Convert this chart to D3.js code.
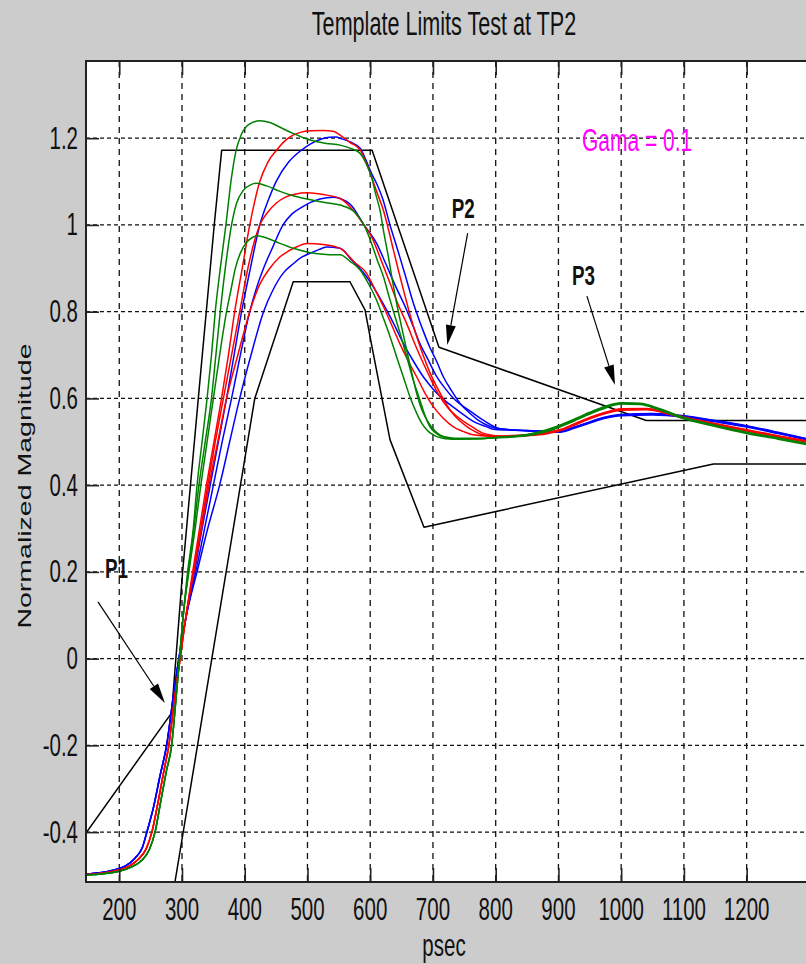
<!DOCTYPE html>
<html>
<head>
<meta charset="utf-8">
<script src="https://cdn.jsdelivr.net/npm/d3@7"></script>
<style>
  html, body { margin: 0; padding: 0; background: #cccccc; }
  svg { display: block; }
</style>
</head>
<body>
<div id="chart"></div>
<script>
// ---- data ----
var xTicks = [200, 300, 400, 500, 600, 700, 800, 900, 1000, 1100, 1200];
var yTicks = [-0.4, -0.2, 0, 0.2, 0.4, 0.6, 0.8, 1, 1.2];

var upperTemplate = [[147,-0.402],[283.5,-0.125],[301,0.2],[326,0.6],[351.4,1.0],[363.2,1.172],
  [603,1.172],[709.6,0.718],[1040,0.549],[1300,0.549]];
var lowerTemplate = [[288.8,-0.515],[416,0.6],[477.3,0.869],[567.7,0.869],[591.7,0.804],[600,0.74],
  [631.5,0.505],[685.7,0.303],[1147,0.449],[1300,0.449]];

// shared start of each colour family (the curves overlap there)
var greenStart = [[147,-0.499],[200,-0.49],[220,-0.48],[236,-0.465],[248,-0.44],[257,-0.4],[266,-0.33],[275,-0.26],[283.5,-0.2],[290,-0.1],[296,0.0],[302,0.1]];
var redStart = [[147,-0.498],[195,-0.489],[215,-0.479],[230,-0.463],[243,-0.438],[252,-0.4],[262,-0.33],[271,-0.26],[279,-0.2],[287.5,-0.1],[297,0.0],[306.5,0.1]];
var blueStart = [[147,-0.497],[190,-0.488],[210,-0.478],[225,-0.46],[237,-0.435],[244,-0.4],[255,-0.34],[265,-0.27],[275.5,-0.2],[285,-0.1],[295,0.0],[307,0.1]];

var green1 = greenStart.concat([
  [309,0.2],[318,0.3],[324,0.4],[332,0.5],[340,0.6],[347,0.7],[353,0.8],[361,0.9],[370,1.0],[378,1.1],[386,1.17],[395,1.21],[408,1.233],[424,1.24],[440,1.236],[458,1.224],[477,1.211],[504,1.196],[530,1.188],[552,1.184],[570,1.176],[584,1.165],[594,1.14],[602,1.111],[609,1.07],[615.6,1.034],[622,0.98],[628.9,0.927],[635,0.875],[642,0.82],[650,0.765],[658,0.712],[666,0.66],[674,0.612],[682,0.575],[690,0.551],[700,0.53],[711,0.516],[725,0.51],[743,0.508],[775,0.508],
  [800,0.51],[850,0.516],[880,0.525],[900,0.535],[925,0.55],[950,0.566],[975,0.58],[1000,0.589],[1030,0.588],[1060,0.576],[1100,0.555],[1150,0.537],[1200,0.521],[1250,0.508],[1300,0.494]]);
var green2 = greenStart.concat([
  [310,0.2],[319,0.3],[327,0.4],[337,0.5],[347,0.6],[354,0.7],[361,0.8],[369,0.9],[379,1.0],[387,1.05],[398,1.08],[410,1.093],[419,1.096],[435,1.09],[455,1.078],[480,1.066],[505,1.058],[530,1.051],[552,1.046],[575,1.03],[590,1.0],[602,0.958],[611,0.92],[621,0.881],[630,0.835],[639.5,0.789],[649,0.743],[658,0.697],[668,0.645],[679,0.597],[687,0.562],[695,0.535],[703,0.522],[711,0.514],[725,0.508],[738,0.506],[775,0.507],
  [800,0.509],[850,0.514],[880,0.523],[900,0.533],[925,0.548],[950,0.564],[975,0.578],[1000,0.587],[1030,0.586],[1060,0.574],[1100,0.553],[1150,0.535],[1200,0.519],[1250,0.506],[1300,0.492]]);
var green3 = greenStart.concat([
  [311,0.2],[321,0.3],[330,0.4],[340,0.5],[350,0.6],[360,0.7],[371,0.8],[378,0.85],[385,0.9],[393,0.935],[403,0.96],[412,0.971],[420,0.975],[435,0.97],[455,0.958],[480,0.945],[505,0.936],[530,0.932],[552,0.931],[568,0.916],[584,0.896],[597,0.865],[610,0.827],[621,0.785],[631.5,0.743],[642,0.696],[652.7,0.65],[663,0.605],[674,0.566],[682,0.543],[690,0.528],[698,0.518],[706,0.512],[720,0.507],[732,0.506],[775,0.507],
  [800,0.51],[850,0.517],[880,0.527],[900,0.537],[925,0.552],[950,0.568],[975,0.582],[1000,0.59],[1030,0.589],[1060,0.577],[1100,0.556],[1150,0.538],[1200,0.522],[1250,0.509],[1300,0.495]]);

var red1 = redStart.concat([
  [317,0.2],[328,0.3],[339,0.4],[351,0.5],[363,0.6],[374,0.7],[384,0.8],[396,0.9],[408,1.0],[416,1.055],[424,1.1],[437,1.145],[451,1.173],[465,1.195],[477,1.207],[490,1.214],[504,1.217],[525,1.218],[541,1.216],[552,1.207],[568,1.19],[584,1.173],[593,1.145],[602,1.111],[612,1.07],[621,1.034],[629,0.99],[637,0.942],[645,0.895],[653,0.85],[661,0.806],[669,0.766],[677,0.73],[685,0.697],[695,0.66],[706,0.627],[716,0.6],[727,0.574],[740,0.552],[754,0.535],[765,0.525],[775,0.518],[790,0.514],[807,0.512],
  [850,0.515],[880,0.52],[900,0.526],[925,0.54],[950,0.555],[975,0.567],[1000,0.575],[1040,0.576],[1070,0.567],[1100,0.556],[1150,0.541],[1200,0.527],[1250,0.513],[1300,0.5]]);
var red2 = redStart.concat([
  [318,0.2],[330,0.3],[341,0.4],[353,0.5],[366,0.6],[379,0.7],[392,0.8],[405,0.9],[424,1.0],[437,1.03],[450,1.05],[465,1.064],[480,1.071],[500,1.074],[525,1.07],[552,1.061],[575,1.03],[590,1.0],[602,0.973],[617,0.92],[631.5,0.866],[645,0.815],[658,0.773],[671,0.726],[684.6,0.681],[698,0.64],[711,0.604],[724,0.578],[737,0.56],[750,0.546],[764,0.533],[780,0.52],[800,0.514],[817,0.512],
  [850,0.514],[880,0.518],[900,0.524],[925,0.538],[950,0.553],[975,0.565],[1000,0.573],[1040,0.574],[1070,0.566],[1100,0.554],[1150,0.539],[1200,0.525],[1250,0.511],[1300,0.498]]);
var red3 = redStart.concat([
  [319,0.2],[331,0.3],[343,0.4],[357,0.5],[371,0.6],[389,0.7],[408,0.8],[423,0.86],[440,0.9],[455,0.925],[470,0.94],[485,0.951],[500,0.957],[525,0.955],[552,0.946],[575,0.914],[594,0.889],[608,0.85],[621,0.812],[634,0.77],[647,0.727],[660,0.688],[674,0.65],[687,0.613],[700.6,0.581],[716,0.555],[732,0.535],[748,0.524],[764,0.516],[790,0.513],
  [850,0.516],[880,0.521],[900,0.527],[925,0.541],[950,0.556],[975,0.568],[1000,0.576],[1040,0.577],[1070,0.568],[1100,0.557],[1150,0.542],[1200,0.528],[1250,0.514],[1300,0.501]]);

var blue1 = blueStart.concat([
  [320,0.2],[332,0.3],[345,0.4],[358,0.5],[371,0.6],[383,0.7],[395,0.8],[409,0.9],[424,1.0],[437,1.055],[450,1.1],[470,1.145],[490,1.172],[505,1.187],[520,1.197],[535,1.202],[546,1.203],[552,1.2],[570,1.19],[584,1.177],[593,1.15],[602,1.119],[610,1.096],[620,1.06],[631.5,1.0],[640,0.96],[647,0.927],[658,0.873],[668.7,0.82],[677,0.785],[686,0.75],[695,0.718],[706,0.685],[716.5,0.65],[730,0.617],[743,0.589],[758,0.567],[775,0.547],[790,0.536],[807,0.53],[823,0.528],
  [850,0.526],[880,0.524],[900,0.524],[925,0.533],[950,0.545],[975,0.556],[1000,0.562],[1050,0.564],[1100,0.559],[1150,0.548],[1200,0.536],[1250,0.521],[1300,0.505]]);
var blue2 = blueStart.concat([
  [322,0.2],[336,0.3],[350,0.4],[364,0.5],[379,0.6],[393,0.7],[408,0.8],[420,0.86],[430,0.9],[445,0.95],[461,1.0],[475,1.025],[490,1.04],[505,1.052],[520,1.06],[541,1.064],[552,1.061],[570,1.045],[590,1.0],[610,0.958],[625,0.91],[640,0.86],[658,0.804],[668,0.768],[679,0.727],[692,0.69],[706,0.65],[720,0.622],[735,0.597],[750,0.58],[765,0.565],[780,0.55],[795,0.537],[807,0.53],[830,0.527],
  [850,0.525],[880,0.523],[900,0.522],[925,0.531],[950,0.543],[975,0.554],[1000,0.56],[1050,0.562],[1100,0.557],[1150,0.546],[1200,0.534],[1250,0.519],[1300,0.503]]);
var blue3 = blueStart.concat([
  [324,0.2],[341,0.3],[360,0.4],[376,0.5],[392,0.6],[410,0.7],[430,0.8],[445,0.85],[462,0.89],[477,0.91],[490,0.925],[505,0.935],[518,0.943],[530,0.949],[552,0.946],[570,0.92],[594,0.881],[610,0.845],[626,0.804],[640,0.765],[652.7,0.727],[668,0.688],[684.6,0.65],[700,0.622],[715,0.6],[737.8,0.574],[755,0.556],[770,0.543],[785,0.535],[796,0.529],[820,0.527],
  [850,0.526],[880,0.525],[900,0.524],[925,0.534],[950,0.546],[975,0.557],[1000,0.563],[1050,0.565],[1100,0.56],[1150,0.549],[1200,0.537],[1250,0.522],[1300,0.506]]);

// annotations: label position and arrow [from, tip] in data units
var pLabels = [
  {text: "P1", at: [177.4, 0.186], arrow: [[166.1, 0.131], [272.8, -0.102]]},
  {text: "P2", at: [729.8, 1.015], arrow: [[755.3, 0.981], [722.8, 0.723]]},
  {text: "P3", at: [921.5, 0.861], arrow: [[945.4, 0.836], [990.1, 0.631]]}
];
var gamaNote = {text: "Gama = 0.1", at: [937.5, 1.170]};

// ---- drawing ----
var width = 806, height = 964;
var plot = {left: 86, top: 61, right: 809.4, bottom: 882};

var svg = d3.select("#chart").append("svg")
  .attr("width", width)
  .attr("height", height)
  .style("font-family", "'Liberation Sans', Arial, sans-serif");

svg.append("rect").attr("width", width).attr("height", height).attr("fill", "#cccccc");

var x = d3.scaleLinear().domain([147, 1300]).range([plot.left, plot.right]);
var y = d3.scaleLinear().domain([-0.515, 1.378]).range([plot.bottom, plot.top]);

svg.append("defs").append("clipPath").attr("id", "clip")
  .append("rect")
  .attr("x", plot.left).attr("y", plot.top)
  .attr("width", plot.right - plot.left).attr("height", plot.bottom - plot.top);

svg.append("rect")
  .attr("x", plot.left).attr("y", plot.top)
  .attr("width", plot.right - plot.left).attr("height", plot.bottom - plot.top)
  .attr("fill", "#fff");

// dashed grid
var grid = svg.append("g");
grid.selectAll(".vg").data(xTicks).enter().append("line")
  .attr("x1", function (d) { return x(d); }).attr("x2", function (d) { return x(d); })
  .attr("y1", plot.top).attr("y2", plot.bottom)
  .attr("stroke", "#111").attr("stroke-width", 1.3)
  .attr("stroke-dasharray", "6,5");
grid.selectAll(".hg").data(yTicks).enter().append("line")
  .attr("x1", plot.left).attr("x2", plot.right)
  .attr("y1", function (d) { return y(d); }).attr("y2", function (d) { return y(d); })
  .attr("stroke", "#111").attr("stroke-width", 1.3)
  .attr("stroke-dasharray", "4,3");

var line = d3.line()
  .curve(d3.curveMonotoneX)
  .x(function (d) { return x(d[0]); })
  .y(function (d) { return y(d[1]); });
var straight = d3.line()
  .x(function (d) { return x(d[0]); })
  .y(function (d) { return y(d[1]); });

var marks = svg.append("g").attr("clip-path", "url(#clip)");

[upperTemplate, lowerTemplate].forEach(function (t) {
  marks.append("path").datum(t)
    .attr("fill", "none").attr("stroke", "#000").attr("stroke-width", 1.5)
    .attr("stroke-linejoin", "round")
    .attr("d", straight);
});

var curves = [
  {data: blue1, color: "#0000ff"}, {data: blue2, color: "#0000ff"}, {data: blue3, color: "#0000ff"},
  {data: red1, color: "#ff0000"}, {data: red2, color: "#ff0000"}, {data: red3, color: "#ff0000"},
  {data: green1, color: "#008000"}, {data: green2, color: "#008000"}, {data: green3, color: "#008000"}
];
curves.forEach(function (c) {
  marks.append("path").datum(c.data)
    .attr("fill", "none").attr("stroke", c.color).attr("stroke-width", 1.5)
    .attr("stroke-linejoin", "round")
    .attr("d", line);
});

// annotation arrows
pLabels.forEach(function (p) {
  var x0 = x(p.arrow[0][0]), y0 = y(p.arrow[0][1]);
  var x1 = x(p.arrow[1][0]), y1 = y(p.arrow[1][1]);
  var a = Math.atan2(y1 - y0, x1 - x0), len = 20, hw = 5;
  var bx = x1 - len * Math.cos(a), by = y1 - len * Math.sin(a);
  marks.append("line")
    .attr("x1", x0).attr("y1", y0).attr("x2", bx).attr("y2", by)
    .attr("stroke", "#000").attr("stroke-width", 1.2);
  marks.append("path")
    .attr("d", "M" + x1 + "," + y1 +
      "L" + (bx + hw * Math.sin(a)) + "," + (by - hw * Math.cos(a)) +
      "L" + (bx - hw * Math.sin(a)) + "," + (by + hw * Math.cos(a)) + "Z")
    .attr("fill", "#000");
});

// tall text, like the stretched original
function tallText(px, py, str, size, opts) {
  opts = opts || {};
  return svg.append("text")
    .attr("transform", "translate(" + px + "," + py + ") scale(1,1.5)")
    .attr("text-anchor", opts.anchor || "middle")
    .attr("font-size", size + "px")
    .attr("font-weight", opts.weight || "normal")
    .attr("fill", opts.color || "#111")
    .text(str);
}

pLabels.forEach(function (p) {
  tallText(x(p.at[0]), y(p.at[1]), p.text, 18.8, {anchor: "start", weight: "bold"});
});
tallText(x(gamaNote.at[0]), y(gamaNote.at[1]), gamaNote.text, 21, {anchor: "start", color: "#ff00ff"});

// frame and inward ticks
var axes = svg.append("g").attr("stroke", "#222");
axes.append("rect")
  .attr("x", plot.left).attr("y", plot.top)
  .attr("width", plot.right - plot.left).attr("height", plot.bottom - plot.top)
  .attr("fill", "none").attr("stroke-width", 2);

svg.append("g").attr("transform", "translate(0," + plot.bottom + ")")
  .call(d3.axisBottom(x).tickValues(xTicks).tickSizeInner(-14).tickSizeOuter(0).tickFormat(""))
  .call(function (g) { g.select(".domain").remove(); g.selectAll("line").attr("stroke", "#222").attr("stroke-width", 1.6); });
svg.append("g").attr("transform", "translate(0," + plot.top + ")")
  .call(d3.axisTop(x).tickValues(xTicks).tickSizeInner(-14).tickSizeOuter(0).tickFormat(""))
  .call(function (g) { g.select(".domain").remove(); g.selectAll("line").attr("stroke", "#222").attr("stroke-width", 1.6); });
svg.append("g").attr("transform", "translate(" + plot.left + ",0)")
  .call(d3.axisLeft(y).tickValues(yTicks).tickSizeInner(-13).tickSizeOuter(0).tickFormat(""))
  .call(function (g) { g.select(".domain").remove(); g.selectAll("line").attr("stroke", "#222").attr("stroke-width", 1.6); });

// tick labels
xTicks.forEach(function (v) { tallText(x(v), plot.bottom + 38, String(v), 20.5); });
yTicks.forEach(function (v) { tallText(plot.left - 8, y(v) + 10.5, String(v), 20.5, {anchor: "end"}); });

// titles
tallText(444, 35, "Template Limits Test at TP2", 21.6);
tallText(444, 956, "psec", 20.5);
svg.append("text")
  .attr("transform", "translate(31,486) rotate(-90) scale(1.5,1)")
  .attr("text-anchor", "middle")
  .attr("font-size", "19px")
  .attr("fill", "#111")
  .text("Normalized Magnitude");
</script>
</body>
</html>
